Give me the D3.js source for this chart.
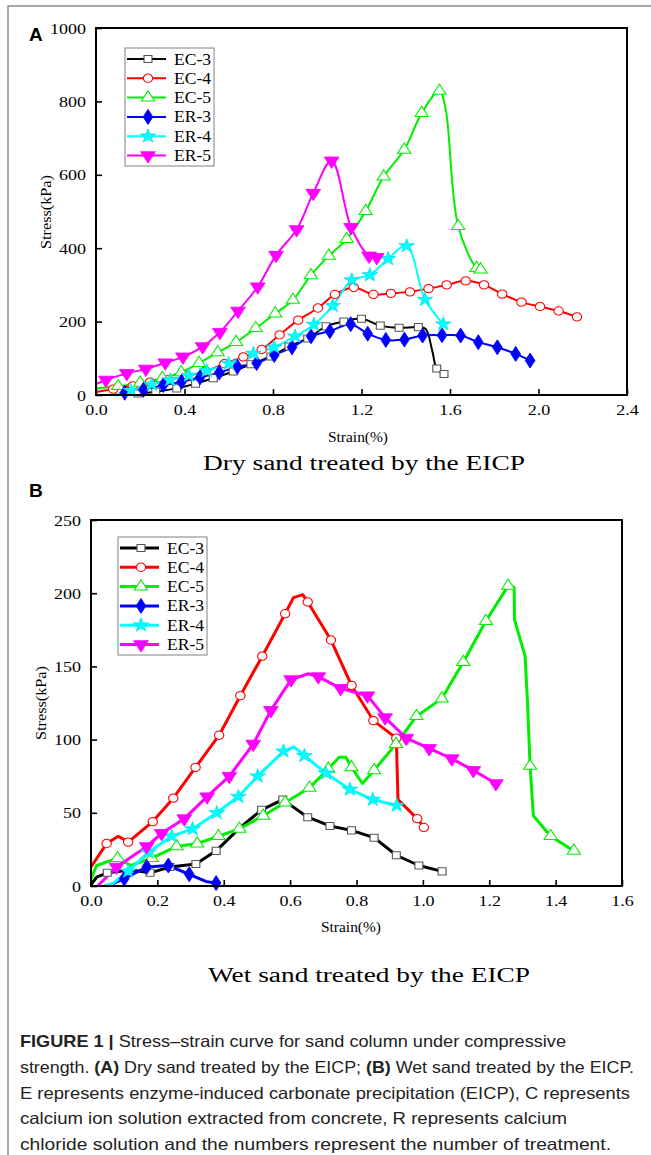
<!DOCTYPE html>
<html>
<head>
<meta charset="utf-8">
<script src="https://cdn.jsdelivr.net/npm/d3@7"></script>
<style>
  body { margin: 0; background: #fff; }
  svg { display: block; }
</style>
</head>
<body>
<svg id="fig" width="651" height="1155"></svg>
<script>
// series names and styles
const seriesNames = ["EC-3", "EC-4", "EC-5", "ER-3", "ER-4", "ER-5"];

// panel A: dry sand, [strain %, stress kPa, marker]
const dryEC3 = [[0.08,0,0],[0.19,4,1],[0.27,9,1],[0.365,18,1],[0.45,31,1],[0.53,46,1],[0.62,64,1],[0.70,84,1],[0.79,105,1],[0.872,132,1],[0.957,154,1],[1.04,187,1],[1.12,200,1],[1.20,208,1],[1.285,189,1],[1.37,183,1],[1.457,185,1],[1.49,180,0],[1.52,120,0],[1.54,72,1],[1.573,57,1]];
const dryEC4 = [[0,8,0],[0.078,16,1],[0.166,25,1],[0.244,35,1],[0.327,42,1],[0.41,52,1],[0.495,65,1],[0.58,85,1],[0.666,104,1],[0.749,124,1],[0.83,164,1],[0.914,204,1],[1.003,237,1],[1.08,274,1],[1.165,293,1],[1.254,274,1],[1.333,277,1],[1.419,281,1],[1.503,290,1],[1.585,300,1],[1.671,311,1],[1.754,300,1],[1.836,275,1],[1.923,253,1],[2.007,241,1],[2.091,229,1],[2.174,213,1]];
const dryEC5 = [[0,18,0],[0.1,24,1],[0.2,33,1],[0.30,46,1],[0.385,62,1],[0.466,87,1],[0.55,116,1],[0.633,144,1],[0.722,182,1],[0.81,222,1],[0.89,259,1],[0.971,326,1],[1.052,379,1],[1.133,425,1],[1.219,501,1],[1.30,595,1],[1.393,668,1],[1.472,768,1],[1.552,829,1],[1.58,780,0],[1.637,460,1],[1.72,346,1],[1.738,342,1]];
const dryER3 = [[0.08,0,0],[0.13,6,1],[0.214,14,1],[0.304,27,1],[0.387,36,1],[0.47,48,1],[0.557,61,1],[0.639,77,1],[0.726,87,1],[0.806,109,1],[0.886,130,1],[0.972,160,1],[1.057,174,1],[1.151,193,1],[1.228,167,1],[1.31,150,1],[1.394,151,1],[1.476,162,1],[1.564,163,1],[1.648,162,1],[1.728,144,1],[1.814,130,1],[1.897,112,1],[1.962,94,1]];
const dryER4 = [[0.06,0,0],[0.158,12,1],[0.252,29,1],[0.335,41,1],[0.42,53,1],[0.5,66,1],[0.6,86,1],[0.711,113,1],[0.805,130,1],[0.90,160,1],[0.985,192,1],[1.07,243,1],[1.156,313,1],[1.238,327,1],[1.32,371,1],[1.404,406,1],[1.487,260,1],[1.57,193,1]];
const dryER5 = [[0,30,0],[0.045,41,1],[0.139,59,1],[0.225,71,1],[0.313,88,1],[0.393,104,1],[0.482,132,1],[0.56,171,1],[0.642,229,1],[0.731,295,1],[0.814,381,1],[0.907,451,1],[0.982,550,1],[1.065,638,1],[1.153,457,1],[1.234,379,1],[1.269,375,1]];

// panel B: wet sand
const wetEC3 = [[0,1,0],[0.017,6,0],[0.049,9,1],[0.12,11,0],[0.178,9,1],[0.238,13,1],[0.316,15,1],[0.377,24,1],[0.45,40,0],[0.514,52,1],[0.578,59,1],[0.653,47,1],[0.72,41,1],[0.785,38,1],[0.853,33,1],[0.92,21,1],[0.988,14,1],[1.058,10,1]];
const wetEC4 = [[0,13,0],[0.047,29,1],[0.082,34,0],[0.112,30,1],[0.186,44,1],[0.248,60,1],[0.315,81,1],[0.386,103,1],[0.45,130,1],[0.516,157,1],[0.585,186,1],[0.61,197,0],[0.638,199,0],[0.653,194,1],[0.723,168,1],[0.785,137,1],[0.851,113,1],[0.92,101,1],[0.925,59,0],[0.983,46,1],[1.003,40,1]];
const wetEC5 = [[0,5,0],[0.017,14,0],[0.08,19,1],[0.12,14,0],[0.183,19,1],[0.258,27,1],[0.32,29,1],[0.384,34,1],[0.447,39,1],[0.519,48,1],[0.585,57,1],[0.658,67,1],[0.715,80,1],[0.748,88,0],[0.768,88,0],[0.785,81,1],[0.818,70,0],[0.853,79,1],[0.919,97,1],[0.981,116,1],[1.057,128,1],[1.122,153,1],[1.19,181,1],[1.257,205,1],[1.275,204,0],[1.276,182,0],[1.308,157,0],[1.315,127,0],[1.323,82,1],[1.333,48,0],[1.385,34,1],[1.455,24,1]];
const wetER3 = [[0.05,0,0],[0.1,5,1],[0.168,13,1],[0.233,14,1],[0.296,8,1],[0.348,3,0],[0.377,2,1]];
const wetER4 = [[0.04,0,0],[0.067,2,0],[0.112,10,1],[0.173,23,1],[0.243,34,1],[0.306,39,1],[0.379,50,1],[0.444,61,1],[0.502,75,1],[0.58,92,1],[0.612,95,0],[0.643,89,1],[0.708,77,1],[0.78,66,1],[0.849,59,1],[0.921,55,1]];
const wetER5 = [[0.02,0,0],[0.077,13,1],[0.168,27,1],[0.213,36,1],[0.281,46,1],[0.35,61,1],[0.417,75,1],[0.489,97,1],[0.542,120,1],[0.603,141,1],[0.655,145,0],[0.685,143,1],[0.752,135,1],[0.833,130,1],[0.886,115,1],[0.95,101,1],[1.019,94,1],[1.087,87,1],[1.152,79,1],[1.22,70,1]];

// tick labels
const strainTicksA = [0, 0.4, 0.8, 1.2, 1.6, 2.0, 2.4];
const stressTicksA = [0, 200, 400, 600, 800, 1000];
const strainTicksB = [0, 0.2, 0.4, 0.6, 0.8, 1.0, 1.2, 1.4, 1.6];
const stressTicksB = [0, 50, 100, 150, 200, 250];

const lineColors = ["#000000", "#ff0000", "#00ee00", "#0000ff", "#00ffff", "#ff00ff"];
const markStroke = ["#555555", "#ff0000", "#00ee00", "#0000ff", "#00e5ee", "#ff00ff"];
const markFill = ["#ffffff", "#ffffff", "#ffffff", "#0000ff", "#00ffff", "#ff00ff"];
const markType = [d3.symbolSquare, d3.symbolCircle, d3.symbolTriangle, d3.symbolDiamond, d3.symbolStar, d3.symbolTriangle];
const markSize = [50, 55, 60, 65, 60, 75];
const markRotate = [0, 0, 0, 0, 0, 180];

const svg = d3.select("#fig");
const serif = "Liberation Serif, Times New Roman, serif";
const sans = "Liberation Sans, Arial, sans-serif";

svg.append("rect").attr("width", 651).attr("height", 1155).attr("fill", "#fff");

// page frame
svg.append("path")
  .attr("d", "M8,1155 V6 H651")
  .attr("fill", "none")
  .attr("stroke", "#8a8a8a")
  .attr("stroke-width", 1.5);

function marker(g, i, x, y) {
  g.append("path")
    .attr("d", d3.symbol().type(markType[i]).size(markSize[i])())
    .attr("transform", `translate(${x},${y}) rotate(${markRotate[i]}) scale(1.12,1)`)
    .attr("fill", markFill[i])
    .attr("stroke", markStroke[i])
    .attr("stroke-width", i < 3 ? 1 : 0.8);
}

function drawPanel(opt) {
  const x = d3.scaleLinear().domain(opt.xDomain).range([opt.left, opt.right]);
  const y = d3.scaleLinear().domain(opt.yDomain).range([opt.bottom, opt.top]);
  const g = svg.append("g");

  // axes with inward ticks
  const xAxis = g.append("g")
    .attr("transform", `translate(0,${opt.bottom})`)
    .call(d3.axisBottom(x).tickValues(opt.xTicks).tickSizeInner(-6).tickSizeOuter(0)
      .tickFormat(d3.format(".1f")));
  const yAxis = g.append("g")
    .attr("transform", `translate(${opt.left},0)`)
    .call(d3.axisLeft(y).tickValues(opt.yTicks).tickSizeInner(-6).tickSizeOuter(0)
      .tickFormat(d3.format("d")));

  [xAxis, yAxis].forEach(a => {
    a.attr("font-family", serif).attr("font-size", 15);
    a.select(".domain").remove();
    a.selectAll("line").attr("stroke", "#000").attr("stroke-width", 1.6);
    a.selectAll("text").attr("fill", "#000");
  });
  xAxis.selectAll("text").attr("y", 9).attr("dy", "0.71em").attr("transform", "scale(1.2,1)");
  yAxis.selectAll("text").attr("x", -8.3).attr("dy", "0.34em").attr("transform", "scale(1.2,1)");

  // curves
  const line = d3.line()
    .x(d => x(d[0]))
    .y(d => y(d[1]))
    .curve(opt.curve);

  opt.series.forEach((data, i) => {
    g.append("path")
      .datum(data)
      .attr("d", line)
      .attr("fill", "none")
      .attr("stroke", lineColors[i])
      .attr("stroke-width", opt.lineWidth)
      .attr("stroke-linejoin", "round");
  });
  opt.series.forEach((data, i) => {
    data.filter(d => d[2]).forEach(d => marker(g, i, x(d[0]), y(d[1])));
  });

  // frame
  g.append("rect")
    .attr("x", opt.left).attr("y", opt.top)
    .attr("width", opt.right - opt.left).attr("height", opt.bottom - opt.top)
    .attr("fill", "none").attr("stroke", "#000").attr("stroke-width", 2);

  // axis titles
  g.append("text")
    .attr("x", opt.xTitle[0]).attr("y", opt.xTitle[1])
    .attr("text-anchor", "middle")
    .attr("font-family", serif).attr("font-size", 14.5)
    .attr("textLength", 60).attr("lengthAdjust", "spacingAndGlyphs")
    .text("Strain(%)");
  g.append("text")
    .attr("transform", `translate(${opt.yTitle[0]},${opt.yTitle[1]}) rotate(-90)`)
    .attr("text-anchor", "middle")
    .attr("font-family", serif).attr("font-size", 14.5)
    .attr("textLength", 74).attr("lengthAdjust", "spacingAndGlyphs")
    .text("Stress(kPa)");

  // legend
  const lg = g.append("g");
  lg.append("rect")
    .attr("x", opt.legend[0]).attr("y", opt.legend[1])
    .attr("width", 89).attr("height", 118)
    .attr("fill", "#fff").attr("stroke", "#808080").attr("stroke-width", 1);
  seriesNames.forEach((name, i) => {
    const ly = opt.legend[1] + 11 + i * 19.3;
    const lx = opt.legend[0] + 2;
    lg.append("line")
      .attr("x1", lx).attr("x2", lx + 39)
      .attr("y1", ly).attr("y2", ly)
      .attr("stroke", lineColors[i]).attr("stroke-width", opt.lineWidth);
    marker(lg, i, lx + 21, ly);
    lg.append("text")
      .attr("x", lx + 47).attr("y", ly + 5.5)
      .attr("font-family", serif).attr("font-size", 16)
      .attr("textLength", 37).attr("lengthAdjust", "spacingAndGlyphs")
      .text(name);
  });

  // panel letter and subtitle
  svg.append("text")
    .attr("x", opt.letter[0]).attr("y", opt.letter[1])
    .attr("font-family", sans).attr("font-weight", "bold").attr("font-size", 19)
    .text(opt.label);
  svg.append("text")
    .attr("x", opt.subtitle[0]).attr("y", opt.subtitle[1])
    .attr("text-anchor", "middle")
    .attr("font-family", serif).attr("font-size", 20)
    .attr("textLength", 322).attr("lengthAdjust", "spacingAndGlyphs")
    .text(opt.subtitleText);
}

drawPanel({
  label: "A", letter: [29, 41],
  left: 96, right: 627, top: 28, bottom: 395,
  xDomain: [0, 2.4], yDomain: [0, 1000],
  xTicks: strainTicksA, yTicks: stressTicksA,
  series: [dryEC3, dryEC4, dryEC5, dryER3, dryER4, dryER5],
  curve: d3.curveCatmullRom.alpha(0.5),
  lineWidth: 2,
  xTitle: [358, 442], yTitle: [51, 212],
  legend: [125, 48],
  subtitle: [364, 470], subtitleText: "Dry sand treated by the EICP"
});

drawPanel({
  label: "B", letter: [29, 497],
  left: 91, right: 622, top: 520, bottom: 886,
  xDomain: [0, 1.6], yDomain: [0, 250],
  xTicks: strainTicksB, yTicks: stressTicksB,
  series: [wetEC3, wetEC4, wetEC5, wetER3, wetER4, wetER5],
  curve: d3.curveLinear,
  lineWidth: 3,
  xTitle: [351, 932], yTitle: [46, 703],
  legend: [118, 537],
  subtitle: [369, 982], subtitleText: "Wet sand treated by the EICP"
});

// caption
const captionLines = [
  [["FIGURE 1 |", true], [" Stress\u2013strain curve for sand column under compressive", false]],
  [["strength. ", false], ["(A)", true], [" Dry sand treated by the EICP; ", false], ["(B)", true], [" Wet sand treated by the EICP.", false]],
  [["E represents enzyme-induced carbonate precipitation (EICP), C represents", false]],
  [["calcium ion solution extracted from concrete, R represents calcium", false]],
  [["chloride solution and the numbers represent the number of treatment.", false]]
];
const captionWidths = [546, 614, 610, 547, 591];

captionLines.forEach((parts, i) => {
  const t = svg.append("text")
    .attr("x", 20).attr("y", 1047 + i * 25.8)
    .attr("font-family", sans).attr("font-size", 16.5).attr("fill", "#222")
    .attr("textLength", captionWidths[i]).attr("lengthAdjust", "spacingAndGlyphs");
  parts.forEach(p => {
    t.append("tspan")
      .attr("font-weight", p[1] ? "bold" : "normal")
      .text(p[0]);
  });
});
</script>
</body>
</html>
